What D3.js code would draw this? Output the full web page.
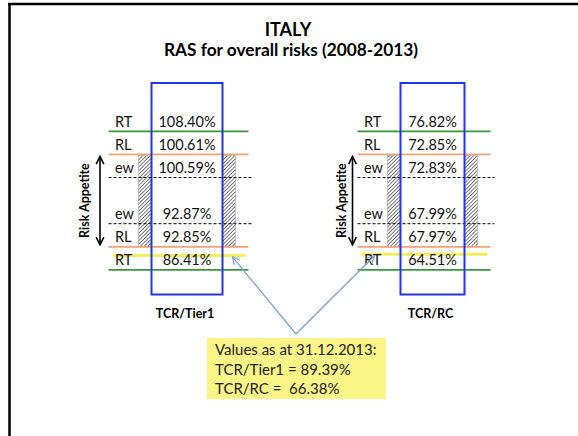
<!DOCTYPE html>
<meta charset="utf-8">
<script src="https://d3js.org/d3.v7.min.js"></script>
<style>
  body { margin: 0; background: #fff; }
  text { font-family: Lato, "Open Sans", sans-serif; }
</style>
<div id="chart"></div>
<script>

// data
var panels = ["TCR/Tier1", "TCR/RC"];
var levelLabels = ["RT", "RL", "ew", "ew", "RL", "RT"];
var tier1Values = [108.40, 100.61, 100.59, 92.87, 92.85, 86.41];
var rcValues = [76.82, 72.85, 72.83, 67.99, 67.97, 64.51];
var currentValues = [89.39, 66.38];
var asAtDate = "31.12.2013";
var titleLines = ["ITALY", "RAS for overall risks (2008-2013)"];

var width = 578, height = 436;

var svg = d3.select("#chart").append("svg")
  .attr("width", width)
  .attr("height", height);

// hatch pattern for the risk appetite band
var defs = svg.append("defs");
var pat = defs.append("pattern")
  .attr("id", "hatch")
  .attr("patternUnits", "userSpaceOnUse")
  .attr("width", 2.6).attr("height", 2.6)
  .attr("patternTransform", "rotate(45)");
pat.append("rect").attr("width", 2.6).attr("height", 2.6).attr("fill", "#fff");
pat.append("line").attr("x1", 0).attr("y1", 0).attr("x2", 0).attr("y2", 2.6)
  .attr("stroke", "#333").attr("stroke-width", 1.3);

defs.append("marker")
  .attr("id", "head")
  .attr("viewBox", "0 0 10 10")
  .attr("refX", 9).attr("refY", 5)
  .attr("markerWidth", 7).attr("markerHeight", 7)
  .attr("orient", "auto")
  .append("path")
  .attr("d", "M1,1 L9,5 L1,9")
  .attr("fill", "none")
  .attr("stroke", "#7aa2cb")
  .attr("stroke-width", 1.4);

defs.append("marker")
  .attr("id", "blackhead")
  .attr("viewBox", "0 0 10 10")
  .attr("refX", 9).attr("refY", 5)
  .attr("markerWidth", 6).attr("markerHeight", 6)
  .attr("orient", "auto-start-reverse")
  .append("path")
  .attr("d", "M1,1 L9,5 L1,9")
  .attr("fill", "none")
  .attr("stroke", "#000")
  .attr("stroke-width", 1.6);

// slide frame
svg.append("line").attr("x1", 8).attr("x2", width).attr("y1", 4).attr("y2", 4)
  .attr("stroke", "#000").attr("stroke-width", 2.5);
svg.append("line").attr("x1", 9.5).attr("x2", 9.5).attr("y1", 3).attr("y2", height)
  .attr("stroke", "#000").attr("stroke-width", 2.5);

// title
svg.append("text").attr("x", 288).attr("y", 36)
  .attr("text-anchor", "middle").attr("font-weight", "bold").attr("font-size", 18)
  .text(titleLines[0]);
svg.append("text").attr("x", 291).attr("y", 56)
  .attr("text-anchor", "middle").attr("font-weight", "bold").attr("font-size", 17.3)
  .text(titleLines[1]);

// scales: panel centres and row slots (schematic, not proportional)
var x = d3.scalePoint().domain(panels).range([187, 432.5]);
var rowSlot = [0, 1, 2, 4, 5, 6];
var y = d3.scaleLinear().domain([0, 6]).range([126.7, 265.3]);
function lineY(i) { return y(rowSlot[i]) + 4.6; }

var boxW = {"TCR/Tier1": 71, "TCR/RC": 64};
var sideOffset = {"TCR/Tier1": {arrow: 51.5, text: 63}, "TCR/RC": {arrow: 48, text: 55}};
var lineColor = {RT: "#3a963a", RL: "#f2a274", ew: "#000"};
var valuesByPanel = [tier1Values, rcValues];

var arrowTargets = [];

panels.forEach(function(p, pi) {
  var vals = valuesByPanel[pi];
  var cx = x(p), w = boxW[p];
  var left = cx - w / 2, right = cx + w / 2;
  var g = svg.append("g");

  // hatched band between the two RL lines
  [[left - 13, left], [right, right + 13]].forEach(function(r) {
    g.append("rect")
      .attr("x", r[0]).attr("y", lineY(1) + 1)
      .attr("width", r[1] - r[0]).attr("height", lineY(4) - lineY(1) - 1)
      .attr("fill", "url(#hatch)")
      .attr("stroke", "#999").attr("stroke-width", 0.5);
  });

  // threshold lines
  levelLabels.forEach(function(lab, i) {
    g.append("line")
      .attr("x1", left - 43).attr("x2", right + (lab === "ew" ? 30 : 26))
      .attr("y1", lineY(i)).attr("y2", lineY(i))
      .attr("stroke", lineColor[lab])
      .attr("stroke-width", lab === "ew" ? 1 : 1.8)
      .attr("stroke-dasharray", lab === "ew" ? "3,2" : null);
  });

  // current value (yellow line) placed between RL and RT
  var yc = d3.scaleLinear().domain([vals[4], vals[5]]).range([lineY(4), lineY(5) - 7]);
  var cy = yc(currentValues[pi]);
  g.append("line")
    .attr("x1", left - 39).attr("x2", right + 23)
    .attr("y1", cy).attr("y2", cy)
    .attr("stroke", "#f3ee5a").attr("stroke-width", 3);
  arrowTargets.push(pi === 0 ? [right + 10, cy + 1.5] : [left - 26, cy + 1.5]);

  // labels and values
  levelLabels.forEach(function(lab, i) {
    g.append("text")
      .attr("x", left - 36.5).attr("y", y(rowSlot[i]))
      .attr("font-size", 14.5).attr("fill", "#111")
      .text(lab);
    g.append("text")
      .attr("x", cx).attr("y", y(rowSlot[i]))
      .attr("text-anchor", "middle")
      .attr("font-size", 14.5).attr("fill", "#111")
      .text(d3.format(".2f")(vals[i]) + "%");
  });

  // blue box
  g.append("rect")
    .attr("x", left).attr("y", 83)
    .attr("width", w).attr("height", 211.5)
    .attr("fill", "none")
    .attr("stroke", "#2233ee").attr("stroke-width", 2);

  // risk appetite arrow
  var ax = left - sideOffset[p].arrow;
  g.append("line")
    .attr("x1", ax).attr("x2", ax)
    .attr("y1", lineY(1) + 2).attr("y2", lineY(4) - 2)
    .attr("stroke", "#000").attr("stroke-width", 1.6)
    .attr("marker-start", "url(#blackhead)")
    .attr("marker-end", "url(#blackhead)");
  var tx = left - sideOffset[p].text;
  var ty = (lineY(1) + lineY(4)) / 2;
  g.append("text")
    .attr("transform", "translate(" + tx + "," + ty + ") rotate(-90)")
    .attr("text-anchor", "middle")
    .attr("font-weight", "bold").attr("font-size", 12.5)
    .text("Risk Appetite");

  // panel name
  g.append("text")
    .attr("x", cx - 2).attr("y", 318)
    .attr("text-anchor", "middle")
    .attr("font-weight", "bold").attr("font-size", 12.5)
    .text(p);
});

// annotation box
var box = {x: 207, y: 338, w: 179, h: 61};
var apex = [296, 334];
arrowTargets.forEach(function(t) {
  svg.append("line")
    .attr("x1", apex[0]).attr("y1", apex[1])
    .attr("x2", t[0]).attr("y2", t[1])
    .attr("stroke", "#7aa2cb").attr("stroke-width", 1.3)
    .attr("marker-end", "url(#head)");
});

svg.append("rect")
  .attr("x", box.x).attr("y", box.y)
  .attr("width", box.w).attr("height", box.h)
  .attr("fill", "#faf586");

var noteLines = [
  "Values as at " + asAtDate + ":",
  panels[0] + " = " + d3.format(".2f")(currentValues[0]) + "%",
  panels[1] + " =  " + d3.format(".2f")(currentValues[1]) + "%"
];
svg.selectAll(".note")
  .data(noteLines)
  .enter().append("text")
  .attr("class", "note")
  .attr("x", box.x + 8)
  .attr("y", function(d, i) { return box.y + 17 + i * 19.5; })
  .attr("font-size", 15).attr("fill", "#222")
  .style("white-space", "pre")
  .text(function(d) { return d; });

</script>
